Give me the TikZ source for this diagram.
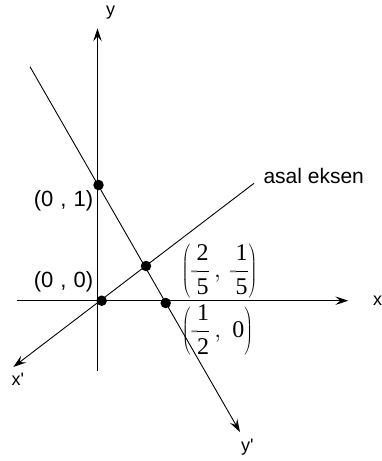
\documentclass[tikz,border=0pt]{standalone}
\usepackage[no-math]{fontspec}
\setmainfont{Liberation Sans}
\newfontfamily\tms{Liberation Serif}
\usetikzlibrary{arrows.meta}
\newcommand{\mfr}[2]{{\displaystyle\frac{\hbox{\tms #1}}{\hbox{\tms #2}}}}
\newcommand{\gminus}{\hbox{\color{gray}\tms -}\mkern-2mu}
\begin{document}
\begin{tikzpicture}[x=1pt,y=-1pt,
  ax/.style={line width=0.9pt,-{Stealth[length=13pt,width=8.5pt,inset=5pt]}},
  dot/.style={circle,fill=black,inner sep=0pt,minimum size=10.5pt},
  lab/.style={font=\fontsize{18}{21}\selectfont,inner sep=0pt},
  coordlab/.style={font=\fontsize{22}{26}\selectfont,inner sep=0pt},
  fraclab/.style={font=\fontsize{24}{28}\selectfont,inner sep=0pt}]
\useasboundingbox (0,0) rectangle (382,461);
\coordinate (yb) at (97.5,370.7);
\coordinate (yt) at (97.5,28.3);
\coordinate (xl) at (17,300.7);
\coordinate (xr) at (348.3,300.7);
\coordinate (ae) at (254,183.3);
\coordinate (xp) at (13.3,367);
\coordinate (ys) at (30,66.7);
\coordinate (yp) at (240,432);
\draw[ax] (yb) -- (yt);
\draw[ax] (xl) -- (xr);
\draw[ax] (ae) -- (xp);
\draw[ax] (ys) -- (yp);
\node[dot] (d01) at (98.5,185) {};
\node[dot] (d00) at (101.7,300.7) {};
\node[dot] (dm) at (146,266) {};
\node[dot] (dx) at (165.7,303) {};
\node[lab,anchor=base] (ly) at (110.5,15) {y};
\node[lab,anchor=base west] (lx) at (373,305.5) {x};
\node[lab,anchor=base west] (lxp) at (11.5,385) {x\textquotesingle};
\node[lab,anchor=base west] (lyp) at (241,451) {y\textquotesingle};
\node[font=\fontsize{21}{25}\selectfont,inner sep=0pt,anchor=base west] (lae) at (263.3,183.3) {asal eksen};
\node[coordlab,anchor=base east] (l01) at (93.3,206.7) {(0\hspace{0.32em},\hspace{0.32em}1)};
\node[coordlab,anchor=base east] (l00) at (93.3,287.3) {(0\hspace{0.32em},\hspace{0.32em}0)};
\node[fraclab] (lm) at (219.5,271) {$\left(\gminus\mfr{2}{5}\,,\,\gminus\mfr{1}{5}\right)$};
\node[fraclab] (lh) at (217.5,330) {$\left(\gminus\mfr{1}{2}\,,\;\hbox{\tms 0}\right)$};
\end{tikzpicture}
\end{document}
